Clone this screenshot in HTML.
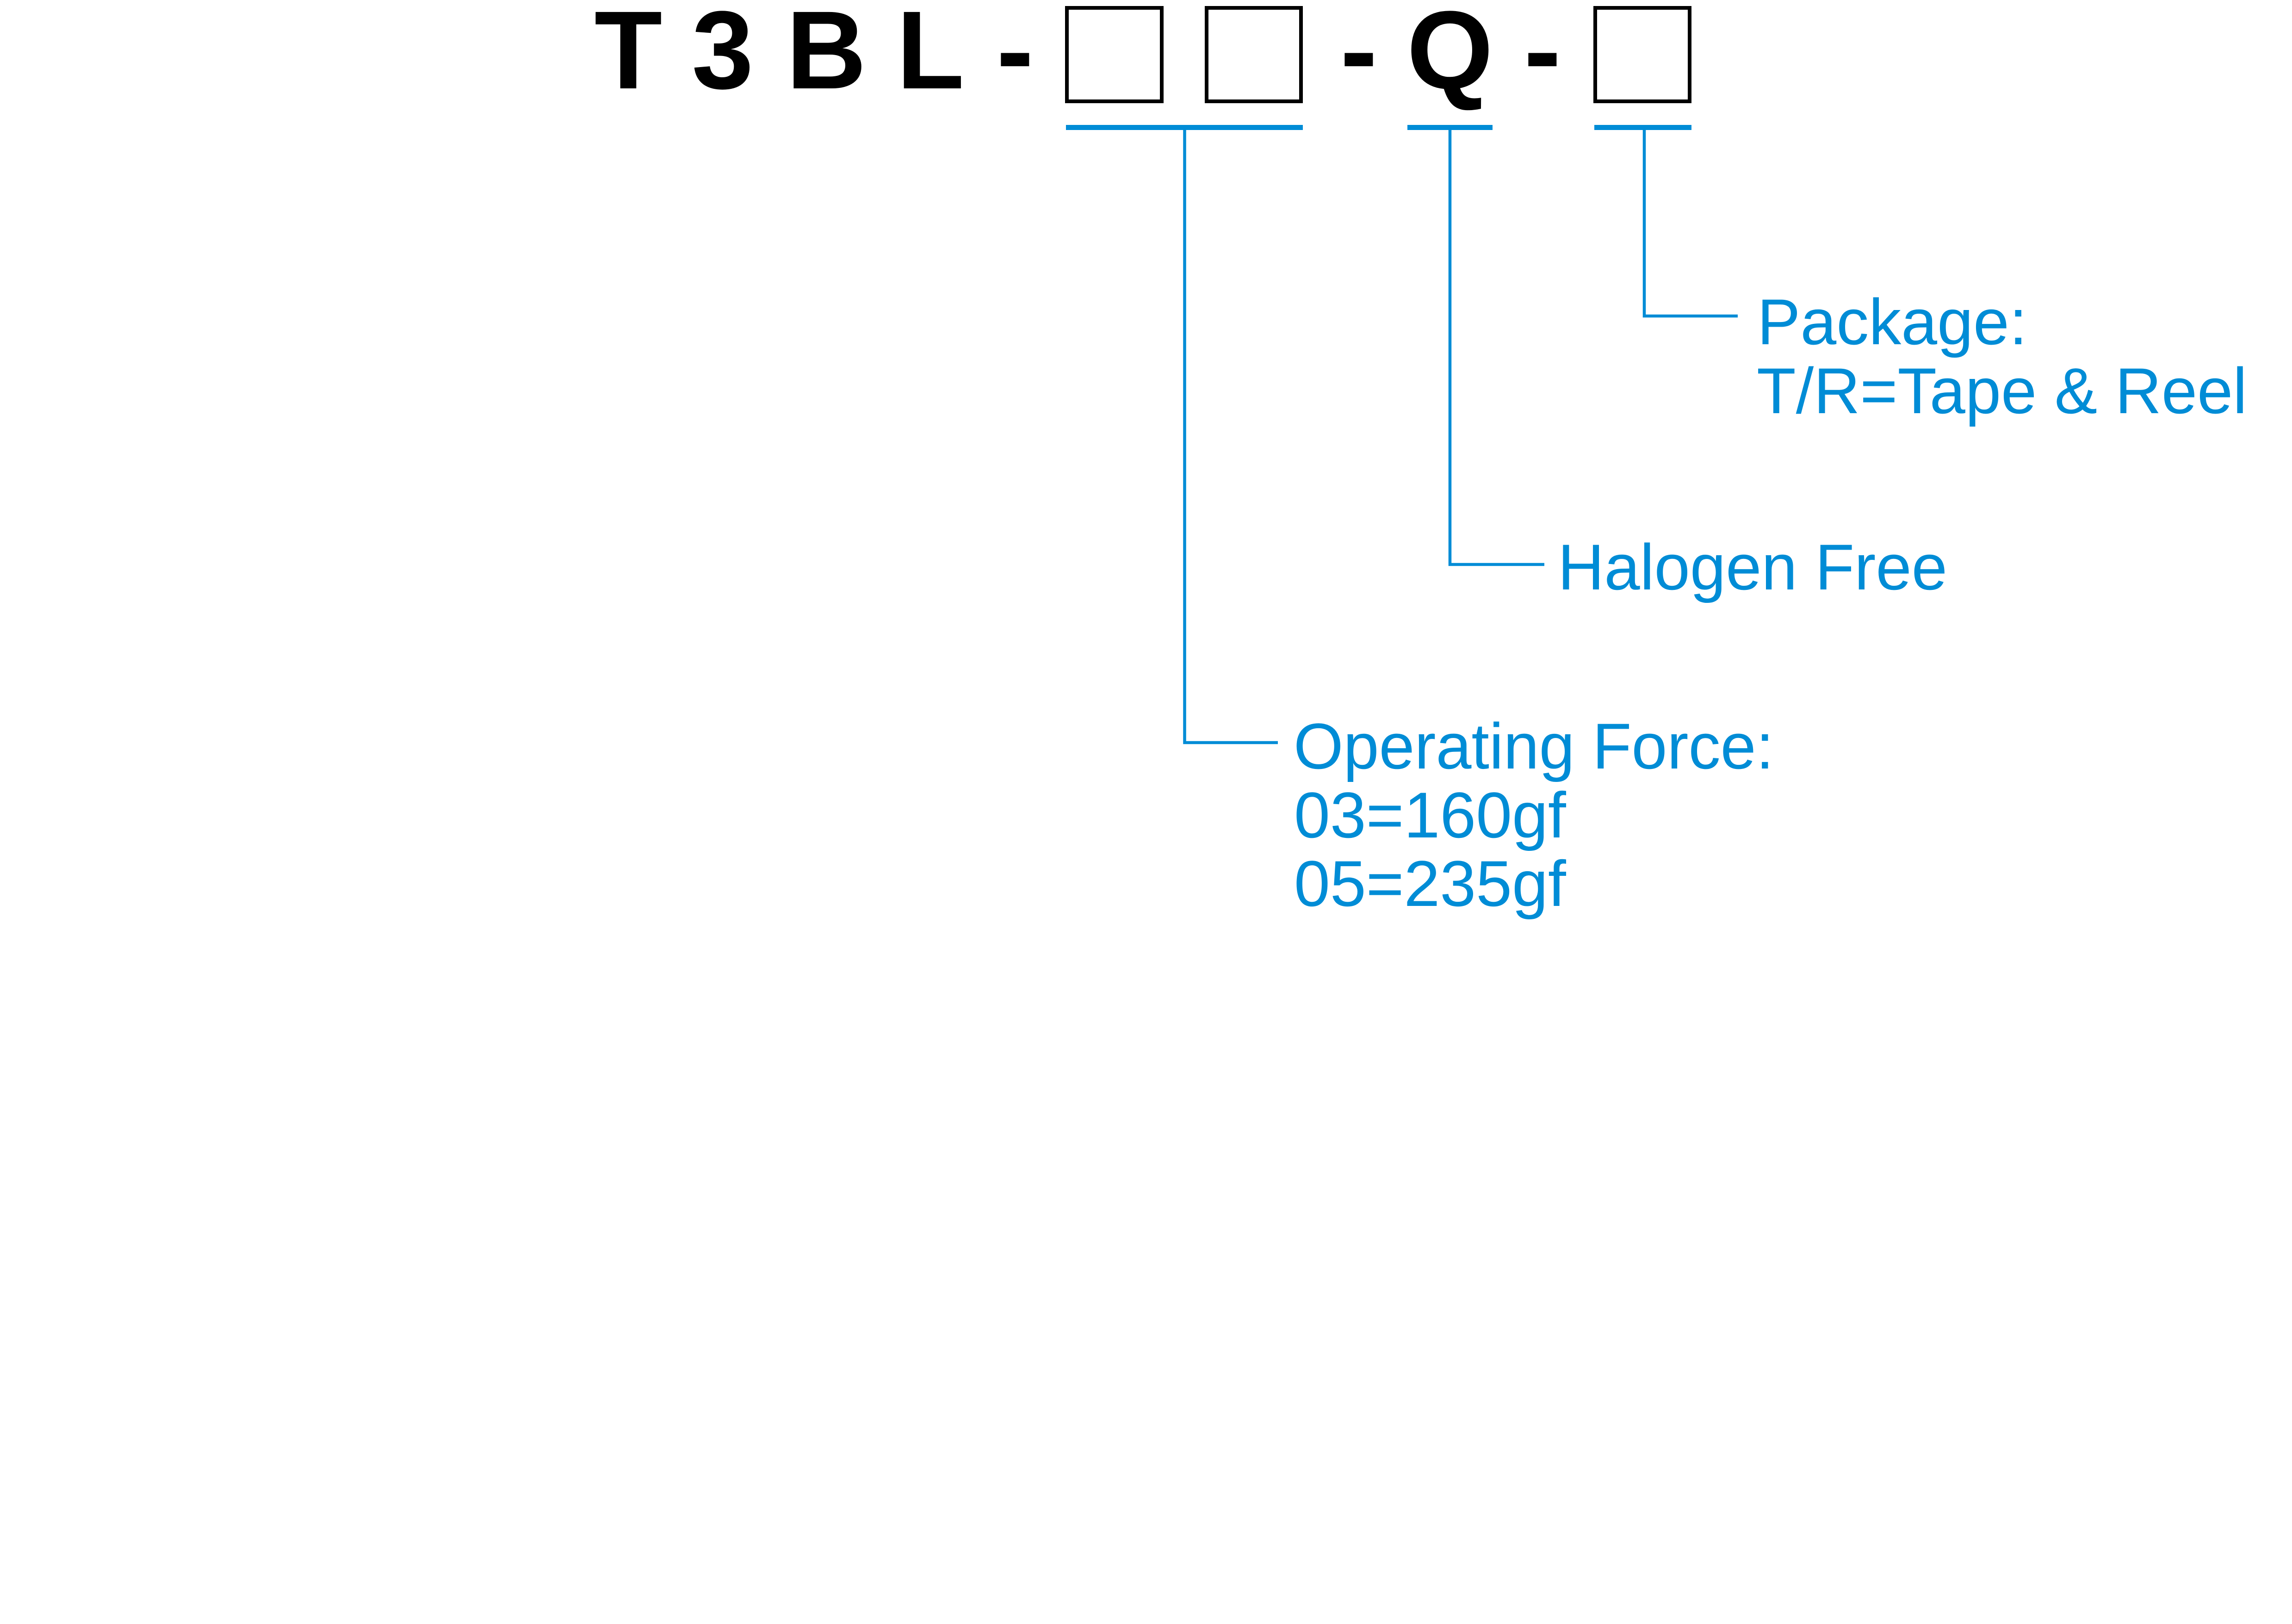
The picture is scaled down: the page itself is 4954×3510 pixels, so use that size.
<!DOCTYPE html>
<html>
<head>
<meta charset="utf-8">
<style>
  html, body { margin: 0; padding: 0; background: #ffffff; }
  body { width: 4954px; height: 3510px; overflow: hidden; }
  svg { display: block; }
</style>
</head>
<body>
<svg width="4954" height="3510" viewBox="0 0 4954 3510" xmlns="http://www.w3.org/2000/svg">
  <rect x="0" y="0" width="4954" height="3510" fill="#ffffff"/>

  <!-- Heading part number -->
  <g font-family="'Liberation Sans', Arial, sans-serif" font-weight="bold" font-size="240" fill="#000000" text-anchor="middle">
    <text x="1358" y="191">T</text>
    <text x="1562" y="191">3</text>
    <text x="1786" y="191">B</text>
    <text x="2011" y="191">L</text>
    <text x="2194" y="191">-</text>
    <text x="2937" y="191">-</text>
    <text x="3134" y="191">Q</text>
    <text x="3334" y="191">-</text>
  </g>

  <!-- Boxes -->
  <g fill="none" stroke="#000000" stroke-width="8">
    <rect x="2306" y="17" width="205" height="202"/>
    <rect x="2608" y="17" width="204" height="202"/>
    <rect x="3448" y="17" width="204" height="202"/>
  </g>

  <!-- Blue bars -->
  <g fill="#008CD6">
    <rect x="2304" y="270" width="512" height="11"/>
    <rect x="3042" y="270" width="184" height="11"/>
    <rect x="3446" y="270" width="210" height="11"/>
  </g>

  <!-- Leader lines -->
  <g fill="none" stroke="#008CD6" stroke-width="6.5">
    <polyline points="2560.5,278 2560.5,1605 2762,1605"/>
    <polyline points="3134,278 3134,1220 3338,1220"/>
    <polyline points="3554,278 3554,683 3756,683"/>
  </g>

  <!-- Labels -->
  <g font-family="'Liberation Sans', Arial, sans-serif" font-size="140" fill="#008CD6">
    <text x="3798" y="744">Package:</text>
    <text x="3797" y="893" textLength="1060" lengthAdjust="spacingAndGlyphs">T/R=Tape &amp; Reel</text>
    <text x="3367" y="1274" textLength="842" lengthAdjust="spacingAndGlyphs">Halogen Free</text>
    <text x="2796" y="1661" textLength="1038" lengthAdjust="spacingAndGlyphs">Operating Force:</text>
    <text x="2797" y="1810">03=160gf</text>
    <text x="2797" y="1958">05=235gf</text>
  </g>
</svg>
</body>
</html>
